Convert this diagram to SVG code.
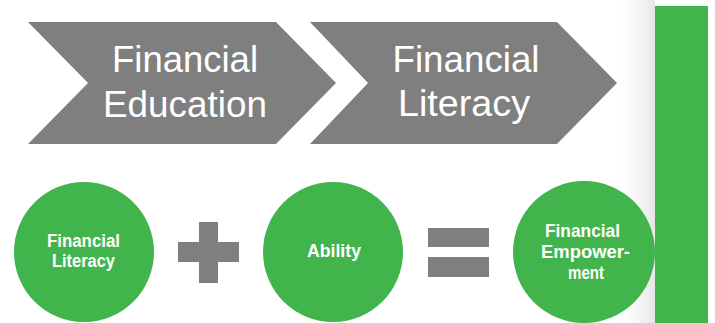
<svg xmlns="http://www.w3.org/2000/svg" width="715" height="323" viewBox="0 0 715 323">
<style>
.chev{fill:#7f7f7f}
.op{fill:#7f7f7f}
.circ{fill:#41b54b}
.big{font-family:"Liberation Sans","Open Sans",sans-serif;font-size:37px;fill:#ffffff;text-anchor:middle}
.small{font-family:"Liberation Sans","Open Sans",sans-serif;font-size:18px;font-weight:bold;fill:#ffffff;text-anchor:middle}
</style>
<defs>
<linearGradient id="shade" x1="0" y1="0" x2="1" y2="0">
<stop offset="0" stop-color="#ffffff" stop-opacity="0"/>
<stop offset="1" stop-color="#e6e6e6" stop-opacity="1"/>
</linearGradient>
</defs>
<rect width="715" height="323" fill="#ffffff"/>
<rect x="612" y="0" width="43" height="323" fill="url(#shade)"/>
<rect id="bar" x="655" y="6" width="53" height="317" fill="#41b54b"/>
<g id="chevron1">
<polygon class="chev" points="28,22 276,22 336,83 276,144 28,144 88,83"/>
<text class="big" x="185" y="72" textLength="146" lengthAdjust="spacingAndGlyphs">Financial</text>
<text class="big" x="185" y="117" textLength="164" lengthAdjust="spacingAndGlyphs">Education</text>
</g>
<g id="chevron2">
<polygon class="chev" points="310,22 557,22 617,83 557,144 310,144 368,83"/>
<text class="big" x="466" y="72" textLength="147" lengthAdjust="spacingAndGlyphs">Financial</text>
<text class="big" x="464" y="116" textLength="132" lengthAdjust="spacingAndGlyphs">Literacy</text>
</g>
<g id="circle1">
<circle class="circ" cx="84" cy="252" r="70"/>
<text class="small" x="83.5" y="247" textLength="73" lengthAdjust="spacingAndGlyphs">Financial</text>
<text class="small" x="83.5" y="267" textLength="63" lengthAdjust="spacingAndGlyphs">Literacy</text>
</g>
<g id="plus">
<rect class="op" x="178" y="242" width="61" height="20"/>
<rect class="op" x="199" y="222" width="19" height="61"/>
</g>
<g id="circle2">
<circle class="circ" cx="333" cy="252" r="70"/>
<text class="small" x="334" y="257" textLength="54" lengthAdjust="spacingAndGlyphs">Ability</text>
</g>
<g id="equals">
<rect class="op" x="428" y="228" width="61" height="19"/>
<rect class="op" x="428" y="257" width="61" height="20"/>
</g>
<g id="circle3">
<circle class="circ" cx="584" cy="252" r="71"/>
<text class="small" x="582.5" y="237" textLength="75" lengthAdjust="spacingAndGlyphs">Financial</text>
<text class="small" x="585.5" y="258" textLength="89" lengthAdjust="spacingAndGlyphs">Empower-</text>
<text class="small" x="586" y="279" textLength="36" lengthAdjust="spacingAndGlyphs">ment</text>
</g>
<g id="connectors"/>
</svg>
